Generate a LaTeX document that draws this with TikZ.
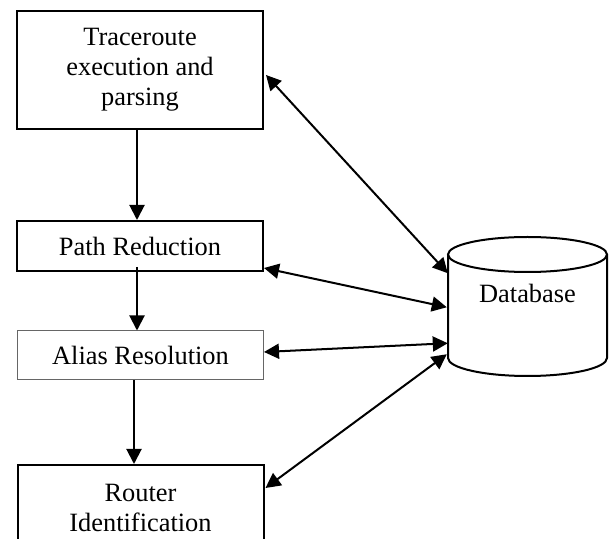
\documentclass[tikz,border=0pt]{standalone}
\usepackage{fontspec}
\setmainfont{Liberation Serif}
\usetikzlibrary{arrows.meta}

\tikzset{
  stage/.style={draw=black, line width=2pt, minimum width=246pt, inner sep=0pt,
    align=center, font=\fontsize{26.4}{30}\selectfont},
  thinstage/.style={stage, draw=black!60, line width=1pt},
  flow/.style={line width=2pt, -{Triangle[length=15pt,width=15pt]}},
  link/.style={line width=2pt, {Triangle[length=15pt,width=15pt]}-{Triangle[length=15pt,width=15pt]}},
  dbline/.style={line width=2pt},
}

\begin{document}
\begin{tikzpicture}[x=1pt, y=1pt]
  \clip (0,0) rectangle (610,538);
  \fill[white] (0,0) rectangle (610,538);

  % processing stages
  \node[stage, minimum height=118pt] (trace) at (140,468) {Traceroute\\execution and\\parsing};
  \node[stage, minimum height=50pt] (reduce) at (140,292) {Path Reduction};
  \node[thinstage, minimum height=49pt] (alias) at (140.5,182.5) {Alias Resolution};
  \node[stage, minimum height=86pt] (router) at (140.5,30) {Router\\Identification};

  % database cylinder
  \node[minimum width=159pt, minimum height=103.5pt, inner sep=0pt] (db) at (527.5,231.75) {};
  \node[font=\fontsize{26.4}{30}\selectfont] (dblabel) at (527.5,245) {Database};
  \draw[dbline] (527.5,283.5) ellipse [x radius=79.5pt, y radius=17.5pt];
  \draw[dbline] (448,283.5) -- (448,180)
    arc [start angle=180, end angle=360, x radius=79.5pt, y radius=18pt]
    -- (607,283.5);

  % pipeline order
  \draw[flow] ([xshift=-3pt]trace.south) -- ([xshift=-3pt]reduce.north);
  \draw[flow] ([xshift=-3pt,yshift=5pt]reduce.south) -- ([xshift=-3.5pt]alias.north);
  \draw[flow] ([xshift=-6.5pt]alias.south) -- ([xshift=-6.5pt]router.north);

  % exchanges with the database
  \draw[link] ([xshift=2pt,yshift=-5pt]trace.east) -- ([yshift=33pt]db.west);
  \draw[link] ([yshift=-22pt]reduce.east) -- ([xshift=-1pt,yshift=-1pt]db.west);
  \draw[link] ([yshift=3.5pt]alias.east) -- ([yshift=-37pt]db.west);
  \draw[link] ([xshift=1pt,yshift=20pt]router.east) -- ([xshift=-1pt,yshift=-48pt]db.west);
\end{tikzpicture}
\end{document}
